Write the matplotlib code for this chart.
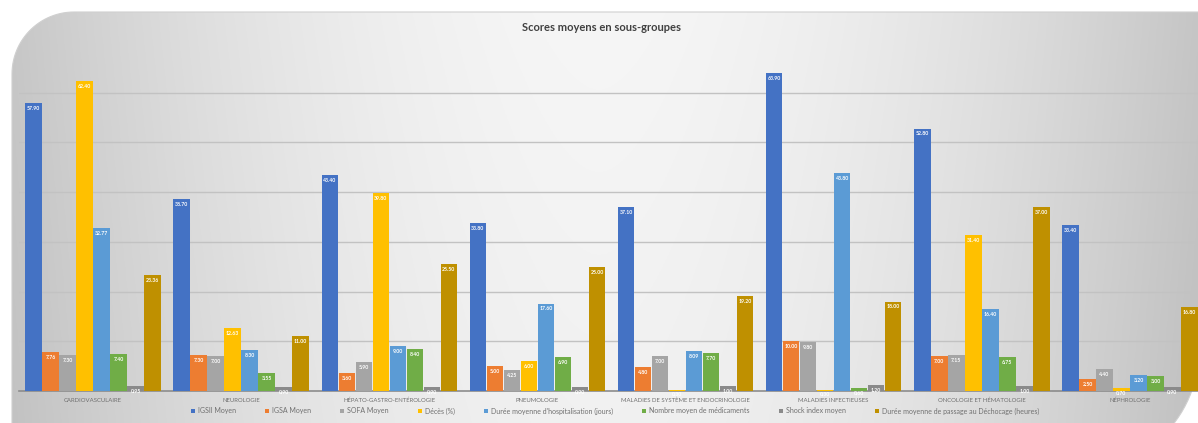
import numpy as np
import matplotlib.pyplot as plt
from matplotlib.path import Path
from matplotlib.patches import PathPatch

plt.rcParams['font.family'] = ['Lato', 'DejaVu Sans']

groupes = ["CARDIOVASCULAIRE", "NEUROLOGIE", "HÉPATO-GASTRO-ENTÉROLOGIE", "PNEUMOLOGIE",
           "MALADIES DE SYSTÈME ET ENDOCRINOLOGIE", "MALADIES INFECTIEUSES",
           "ONCOLOGIE ET HÉMATOLOGIE", "NÉPHROLOGIE"]

igsii = [57.90, 38.70, 43.40, 33.80, 37.10, 63.90, 52.80, 33.40]
igsa = [7.76, 7.30, 3.60, 5.00, 4.80, 10.00, 7.00, 2.50]
sofa = [7.30, 7.00, 5.90, 4.25, 7.00, 9.80, 7.15, 4.40]
deces = [62.40, 12.63, 39.80, 6.00, 0.30, 0.30, 31.40, 0.70]
duree_hosp = [32.77, 8.30, 9.00, 17.60, 8.09, 43.80, 16.40, 3.20]
nb_medic = [7.40, 3.55, 8.40, 6.90, 7.70, 0.60, 6.75, 3.00]
shock_index = [0.95, 0.90, 0.90, 0.90, 1.00, 1.20, 1.00, 0.90]
duree_dechoc = [23.36, 11.00, 25.50, 25.00, 19.20, 18.00, 37.00, 16.80]

series = [
    ("IGSII Moyen", igsii, "#4472C4"),
    ("IGSA Moyen", igsa, "#ED7D31"),
    ("SOFA Moyen", sofa, "#A5A5A5"),
    ("Décès (%)", deces, "#FFC000"),
    ("Durée moyenne d'hospitalisation (jours)", duree_hosp, "#5B9BD5"),
    ("Nombre moyen de médicaments", nb_medic, "#70AD47"),
    ("Shock index moyen", shock_index, "#8A8A8A"),
    ("Durée moyenne de passage au Déchocage (heures)", duree_dechoc, "#BF9000"),
]

W, H = 1198, 423
fig = plt.figure(figsize=(W / 100, H / 100), dpi=100)
fig.patch.set_facecolor("white")

# background panel: grey gradient inside a rounded frame
bg = fig.add_axes([0, 0, 1, 1])
bg.set_xlim(0, W)
bg.set_ylim(H, 0)
bg.axis("off")
gx, gy = np.meshgrid(np.linspace(-1, 1, 600), np.linspace(0, 1, 220))
shade = 0.965 - 0.19 * np.abs(gx) ** 1.8 - 0.02 * gy
im = bg.imshow(np.dstack([shade] * 3), extent=(0, W, H, 0), aspect="auto", zorder=0)

r1, r2 = 62, 120
left, top, right, bottom = 12, 12, 1199, 470
t1 = np.linspace(np.pi, 1.5 * np.pi, 30)
t2 = np.linspace(0, 0.5 * np.pi, 30)
pts = [(left, H + 5)]
pts += list(zip(left + r1 + r1 * np.cos(t1), top + r1 + r1 * np.sin(t1)))
pts += [(right, top)]
pts += list(zip(right - r2 + r2 * np.cos(t2), bottom - r2 + r2 * np.sin(t2)))
pts += [(left, H + 5), (left, H + 5)]
codes = [Path.MOVETO] + [Path.LINETO] * (len(pts) - 2) + [Path.CLOSEPOLY]
frame = PathPatch(Path(pts, codes), facecolor="none", edgecolor="#d0d0d0", lw=0.8, zorder=1)
bg.add_patch(frame)
im.set_clip_path(frame)

ax = fig.add_axes([19 / W, 32 / H, 1185 / W, 348 / H])
ax.patch.set_alpha(0)

x = np.arange(len(groupes))
w = 0.1148
for i, (nom, vals, col) in enumerate(series):
    pos = x + (i - 3.5) * w
    bars = ax.bar(pos, vals, width=w * 0.97, color=col, label=nom, zorder=3)
    for b, v in zip(bars, vals):
        ax.text(b.get_x() + b.get_width() / 2, v - 0.6, f"{v:.2f}", ha="center", va="top",
                fontsize=3.7, color="white", fontweight="bold", zorder=4)

ax.set_xlim(-0.5, len(groupes) - 0.5)
ax.set_ylim(0, 70)
ax.set_yticks(np.arange(10, 70, 10))
ax.yaxis.grid(True, color="#c2c2c2", lw=1.0, zorder=0)
ax.tick_params(axis="y", length=0, labelleft=False)
ax.tick_params(axis="x", length=0, pad=5)
ax.set_xticks(x)
ax.set_xticklabels(groupes, fontsize=4.3, color="#707070")
for s in ["top", "right", "left"]:
    ax.spines[s].set_visible(False)
ax.spines["bottom"].set_color("#8c8c8c")
ax.spines["bottom"].set_linewidth(1.2)

fig.text(0.502, 0.934, "Scores moyens en sous-groupes", ha="center", va="center",
         fontsize=8, color="#404040", fontweight="bold")

fig.legend(loc="center", bbox_to_anchor=(615 / W, 1 - 411 / H), ncol=8, frameon=False,
           fontsize=5.0, labelcolor="#707070", handlelength=0.6, handleheight=0.6,
           handletextpad=0.4, columnspacing=4.2, borderpad=0)

fig.savefig("out.png", dpi=100)
